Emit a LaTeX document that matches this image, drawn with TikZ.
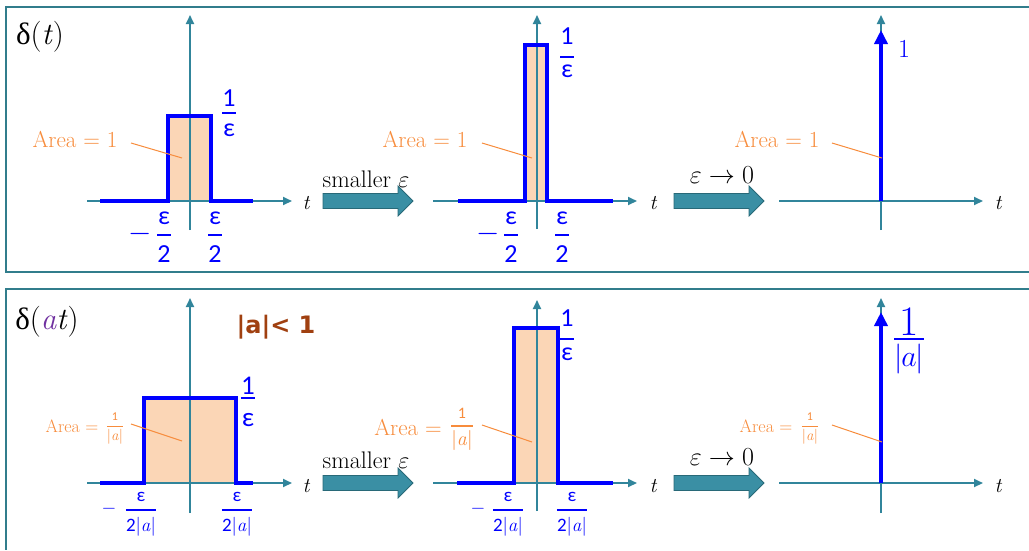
\RequirePackage{fix-cm}
\documentclass[tikz,border=0pt]{standalone}
\usepackage{fontspec}
\usetikzlibrary{arrows.meta,calc}
\newfontfamily\carl{Carlito}
\newfontfamily\lsr{Liberation Serif}
\newfontfamily\dvb{DejaVu Sans}
\definecolor{axc}{RGB}{49,133,155}
\definecolor{frm}{RGB}{49,125,140}
\definecolor{arw}{RGB}{58,143,164}
\definecolor{arwd}{RGB}{40,105,120}
\definecolor{peach}{RGB}{251,214,182}
\definecolor{orng}{RGB}{247,140,60}
\definecolor{brwn}{RGB}{160,64,16}
\definecolor{purp}{RGB}{112,48,160}
\newcommand\fsz[1]{\fontsize{#1}{#1}\selectfont}
\newcommand\absa{{\rmfamily|\textit{a}|}}
% fraction: name, x, y(bar), style, num, den, gap above, gap below, bar width
\newcommand\vfr[9]{%
  \coordinate (#1) at (#2,#3);
  \node[#4,anchor=south] (#1n) at ([yshift=#7]#1) {#5};
  \node[#4,anchor=north] (#1d) at ([yshift=-#8]#1) {#6};
  \draw[#4,line width=#9] let \p1=(#1n.west), \p2=(#1d.west), \p3=(#1n.east), \p4=(#1d.east), \p5=(#1) in
    ({min(\x1,\x2)},\y5) coordinate (#1w) -- ({max(\x3,\x4)},\y5) coordinate (#1e);
}
\newcommand\bigarrow[2]{%
  \draw[big] (#1,#2) ++(0,-7.5) -- ++(75,0) -- ++(0,-7.5) -- ++(15,15) -- ++(-15,15) -- ++(0,-7.5) -- ++(-75,0) -- cycle;}
\begin{document}
\begin{tikzpicture}[x=1pt,y=-1pt,
  ax/.style={draw=axc,line width=2pt,-{Triangle[length=9pt,width=8pt]}},
  sig/.style={draw=blue,line width=4pt,line join=miter},
  imp/.style={draw=blue,line width=4pt,-{Triangle[length=14pt,width=13pt]}},
  lead/.style={draw=orng,line width=1pt},
  blA/.style={color=blue,inner sep=0pt,font={\carl\fsz{26}}},
  blB/.style={color=blue,inner sep=0pt,font={\carl\fsz{19}}},
  orS/.style={color=orng,inner sep=0pt,font=\carl},
  orl/.style={color=orng,inner sep=0pt},
  tl/.style={inner sep=0pt,font={\fsz{21}\itshape}},
  big/.style={fill=arw,draw=arwd,line width=0.8pt},
  frame/.style={draw=frm,line width=1.5pt}]
\useasboundingbox (0,0) rectangle (1029,550);
% frames
\draw[frame] (1029,7) -- (6,7) -- (6,272) -- (1029,272);
\draw[frame] (1029,289) -- (6,289) -- (6,550);

% ================= TOP PANEL =================
\node[inner sep=0pt,font=\fsz{31}] (d1) at (40,37) {{\lsr δ}(\textit{t})};

% graph 1
\fill[peach] (168,116) rectangle (211,201);
\coordinate (a1l) at (87,201); \coordinate (a1r) at (292,201);
\coordinate (a1b) at (190,230); \coordinate (a1t) at (190,15);
\draw[ax] (a1l) -- (a1r);
\draw[ax] (a1b) -- (a1t);
\draw[sig] (100,201) -- (168,201) -- (168,116) -- (211,116) -- (211,201) -- (253,201);
\node[tl] (t1) at (306,203) {t};
\vfr{h1}{229}{113}{blA}{1}{ε}{6pt}{11pt}{1.8pt}
\node[blA] (m1) at (140,234) {\fsz{30}$-$};
\vfr{l1}{164}{235}{blA}{ε}{2}{10pt}{10pt}{1.8pt}
\vfr{r1}{215}{235}{blA}{ε}{2}{10pt}{10pt}{1.8pt}
\node[orl,font=\fsz{23},anchor=base] (ar1) at (75,147) {Area = 1};
\coordinate (q1a) at (131,143); \coordinate (q1b) at (182,158);
\draw[lead] (q1a) -- (q1b);

\bigarrow{323}{201}
\node[inner sep=0pt,font=\fsz{24}] (sm1) at (366,179) {smaller $\varepsilon$};

% graph 2
\fill[peach] (525,45) rectangle (547,201);
\coordinate (a2l) at (433,201); \coordinate (a2r) at (637,201);
\coordinate (a2b) at (537,229); \coordinate (a2t) at (537,15);
\draw[ax] (a2l) -- (a2r);
\draw[ax] (a2b) -- (a2t);
\draw[sig] (458,201) -- (525,201) -- (525,45) -- (547,45) -- (547,201) -- (613,201);
\node[tl] (t2) at (653,203) {t};
\vfr{h2}{567}{57}{blA}{1}{ε}{12pt}{8pt}{1.8pt}
\node[blA] (m2) at (488,234) {\fsz{30}$-$};
\vfr{l2}{511}{235}{blA}{ε}{2}{10pt}{10pt}{1.8pt}
\vfr{r2}{562}{235}{blA}{ε}{2}{10pt}{10pt}{1.8pt}
\node[orl,font=\fsz{23},anchor=base] (ar2) at (425,147) {Area = 1};
\coordinate (q2a) at (482,143); \coordinate (q2b) at (532,158);
\draw[lead] (q2a) -- (q2b);

\bigarrow{674}{201}
\node[inner sep=0pt,font=\fsz{26}] (ep1) at (722,175) {$\varepsilon\rightarrow 0$};

% graph 3
\coordinate (a3l) at (779,201); \coordinate (a3r) at (983,201);
\coordinate (a3b) at (881,230); \coordinate (a3t) at (881,15);
\draw[ax] (a3l) -- (a3r);
\draw[ax] (a3b) -- (a3t);
\coordinate (i3a) at (881,201); \coordinate (i3b) at (881,30);
\draw[imp] (i3a) -- (i3b);
\node[inner sep=0pt,color=blue,font=\fsz{26}] (one3) at (904,49) {1};
\node[tl] (t3) at (998,203) {t};
\node[orl,font=\fsz{23},anchor=base] (ar3) at (777,147) {Area = 1};
\coordinate (q3a) at (832,143); \coordinate (q3b) at (882,158);
\draw[lead] (q3a) -- (q3b);

% ================= BOTTOM PANEL =================
\node[inner sep=0pt,font=\fsz{31}] (d2) at (47,322) {{\lsr δ}(\textit{\color{purp}a}\textit{t})};
\node[inner sep=0pt,color=brwn,font={\dvb\bfseries\fsz{24}}] (hw) at (276,327) {|a|< 1};

% graph 4
\fill[peach] (144,398) rectangle (236,483);
\coordinate (a4l) at (87,483); \coordinate (a4r) at (292,483);
\coordinate (a4b) at (190,513); \coordinate (a4t) at (190,298);
\draw[ax] (a4l) -- (a4r);
\draw[ax] (a4b) -- (a4t);
\draw[sig] (100,483) -- (144,483) -- (144,398) -- (236,398) -- (236,483) -- (253,483);
\node[tl] (t4) at (306,486) {t};
\vfr{h4}{248}{398}{blA}{{\fsz{27}1}}{{\fsz{27}ε}}{3pt}{15pt}{1.8pt}
\node[blB] (m4) at (109,509) {$-$};
\vfr{l4}{141}{510}{blB}{ε}{2\absa}{8pt}{7pt}{1.5pt}
\vfr{r4}{237}{510}{blB}{ε}{2\absa}{8pt}{7pt}{1.5pt}
\node[orl,font=\fsz{18},anchor=base] (ar4) at (72,432) {Area =};
\vfr{o4}{115}{426}{orS}{{\fsz{12}1}}{{\fsz{15}\absa}}{5pt}{3pt}{1pt}
\coordinate (q4a) at (131,424); \coordinate (q4b) at (182,441);
\draw[lead] (q4a) -- (q4b);

\bigarrow{323}{483}
\node[inner sep=0pt,font=\fsz{24}] (sm2) at (366,460) {smaller $\varepsilon$};

% graph 5
\fill[peach] (514,328) rectangle (558,483);
\coordinate (a5l) at (433,483); \coordinate (a5r) at (637,483);
\coordinate (a5b) at (537,511); \coordinate (a5t) at (537,300);
\draw[ax] (a5l) -- (a5r);
\draw[ax] (a5b) -- (a5t);
\draw[sig] (457,483) -- (514,483) -- (514,328) -- (558,328) -- (558,483) -- (613,483);
\node[tl] (t5) at (653,486) {t};
\vfr{h5}{567}{339}{blA}{1}{ε}{12pt}{9pt}{1.8pt}
\node[blB] (m5) at (478,509) {$-$};
\vfr{l5}{508}{510}{blB}{ε}{2\absa}{8pt}{7pt}{1.5pt}
\vfr{r5}{572}{510}{blB}{ε}{2\absa}{8pt}{7pt}{1.5pt}
\node[orl,font=\fsz{23},anchor=base] (ar5) at (408,435) {Area =};
\vfr{o5}{462}{426}{orS}{{\fsz{16}1}}{{\fsz{20}\absa}}{7pt}{4pt}{1.3pt}
\coordinate (q5a) at (482,425); \coordinate (q5b) at (532,442);
\draw[lead] (q5a) -- (q5b);

\bigarrow{674}{483}
\node[inner sep=0pt,font=\fsz{26}] (ep2) at (722,457) {$\varepsilon\rightarrow 0$};

% graph 6
\coordinate (a6l) at (779,483); \coordinate (a6r) at (983,483);
\coordinate (a6b) at (881,513); \coordinate (a6t) at (881,298);
\draw[ax] (a6l) -- (a6r);
\draw[ax] (a6b) -- (a6t);
\coordinate (i6a) at (881,483); \coordinate (i6b) at (881,312);
\draw[imp] (i6a) -- (i6b);
\vfr{h6}{909}{339}{blA}{{\rmfamily\fsz{42}1}}{{\fsz{30}$|\mkern-1mu a\mkern-1mu|$}}{3pt}{5pt}{1.8pt}
\node[tl] (t6) at (998,486) {t};
\node[orl,font=\fsz{18},anchor=base] (ar6) at (766,432) {Area =};
\vfr{o6}{810}{426}{orS}{{\fsz{12}1}}{{\fsz{15}\absa}}{5pt}{3pt}{1pt}
\coordinate (q6a) at (832,425); \coordinate (q6b) at (882,442);
\draw[lead] (q6a) -- (q6b);
\end{tikzpicture}
\end{document}
